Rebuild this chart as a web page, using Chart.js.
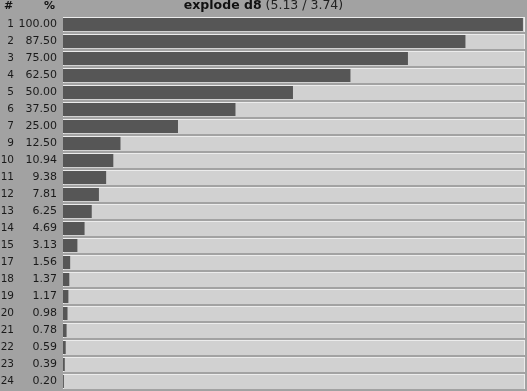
<!DOCTYPE html>
<html>
<head>
<meta charset="utf-8">
<script src="https://cdn.jsdelivr.net/npm/chart.js@4"></script>
<style>
  html, body { margin: 0; padding: 0; background: #a2a2a2; overflow: hidden; }
  canvas { display: block; }
</style>
</head>
<body>
<canvas id="chart" width="527" height="391"></canvas>
<script>
// rows of the table
const ranks = ['1', '2', '3', '4', '5', '6', '7', '9', '10', '11', '12', '13', '14', '15', '17', '18', '19', '20', '21', '22', '23', '24'];
const percents = [100.00, 87.50, 75.00, 62.50, 50.00, 37.50, 25.00, 12.50, 10.94, 9.38, 7.81, 6.25, 4.69, 3.13, 1.56, 1.37, 1.17, 0.98, 0.78, 0.59, 0.39, 0.20];
const pctLabels = percents.map(v => v.toFixed(2));
const titleBold = 'explode d8';
const titleRest = ' (5.13 / 3.74)';

const FONT = 'DejaVu Sans';
const X_MAX = 100.45;

// header row: "#", "%" and the title, drawn above the table
const headerPlugin = {
    id: 'header',
    afterDraw(chart) {
        const ctx = chart.ctx;
        ctx.save();
        ctx.textBaseline = 'middle';
        ctx.fillStyle = '#111';
        ctx.font = 'bold 11px "' + FONT + '"';
        ctx.textAlign = 'left';
        ctx.fillText('#', 4, 6);
        ctx.fillText('%', 44, 6);
        // title centred on the whole page width
        const bold = 'bold 12.5px "' + FONT + '"';
        const norm = '12.5px "' + FONT + '"';
        ctx.font = bold;
        const wb = ctx.measureText(titleBold).width;
        ctx.font = norm;
        const wr = ctx.measureText(titleRest).width;
        const x = chart.width / 2 - (wb + wr) / 2;
        ctx.font = bold;
        ctx.fillText(titleBold, x, 6);
        ctx.font = norm;
        ctx.fillStyle = '#222';
        ctx.fillText(titleRest, x + wb, 6);
        ctx.restore();
    }
};

// keep the category axes from pushing the plot area in
function fixAxis(width) {
    return function(scale) {
        scale.width = width;
        scale.paddingTop = 0;
        scale.paddingBottom = 0;
    };
}

const data = {
    labels: pctLabels,
    datasets: [
        {
            label: 'value',
            data: percents,
            backgroundColor: '#565656',
            borderWidth: 0,
            barPercentage: 13 / 17,
            categoryPercentage: 1,
            grouped: false,
            order: 0
        },
        {
            label: 'track',
            data: percents.map(() => X_MAX),
            backgroundColor: '#d1d1d1',
            borderColor: '#ececec',
            borderWidth: { top: 1, left: 1, right: 1, bottom: 0 },
            borderSkipped: false,
            barPercentage: 15 / 17,
            categoryPercentage: 1,
            grouped: false,
            order: 1
        }
    ]
};

const options = {
    indexAxis: 'y',
    responsive: false,
    animation: false,
    layout: {
        padding: { top: 16, right: 2, bottom: 1, left: 0 }
    },
    plugins: {
        legend: { display: false },
        tooltip: { enabled: false },
        title: { display: false }
    },
    scales: {
        x: {
            display: false,
            min: 0,
            max: X_MAX
        },
        y: {
            type: 'category',
            position: 'left',
            weight: 0,
            grid: { display: false, drawTicks: false },
            border: { display: false },
            ticks: {
                color: '#1a1a1a',
                padding: 6,
                font: { family: FONT, size: 11 }
            },
            afterFit: fixAxis(49)
        },
        y2: {
            type: 'category',
            position: 'left',
            weight: 1,
            labels: ranks,
            offset: true,
            grid: { display: false, drawTicks: false },
            border: { display: false },
            ticks: {
                color: '#1a1a1a',
                padding: 0,
                font: { family: FONT, size: 10.5 }
            },
            afterFit: fixAxis(14)
        }
    }
};

new Chart(document.getElementById('chart'), {
    type: 'bar',
    data: data,
    options: options,
    plugins: [headerPlugin]
});
</script>
</body>
</html>
